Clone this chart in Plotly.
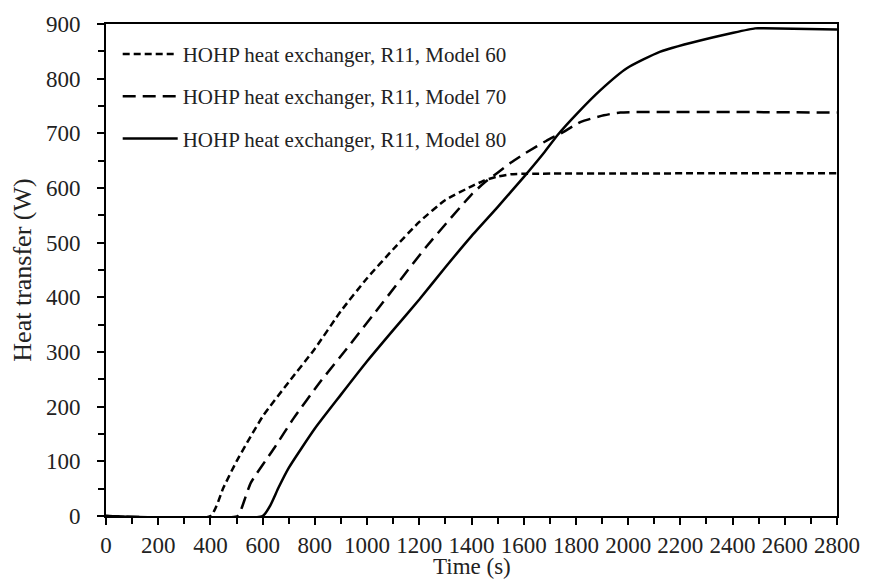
import plotly.graph_objects as go

# Model 60 (short dash)
t60 = [0, 400, 450, 500, 600, 700, 800, 900, 1000, 1100, 1200, 1300, 1400, 1450, 1500, 1550, 1600, 2800]
q60 = [0, 0, 52, 100, 182, 245, 306, 375, 435, 488, 538, 578, 603, 614, 621, 625, 626, 627]

# Model 70 (long dash)
t70 = [0, 505, 520, 555, 644, 719, 820, 922, 1061, 1226, 1400, 1450, 1500, 1550, 1600, 1700, 1743, 1819, 1907, 1970, 2800]
q70 = [0, 0, 15, 61, 124, 179, 245, 306, 391, 492, 588, 610, 628, 646, 662, 690, 700, 721, 733, 738, 738]

# Model 80 (solid)
t80 = [0, 600, 630, 661, 700, 800, 900, 1000, 1100, 1200, 1300, 1400, 1500, 1600, 1680, 1730, 1806, 1894, 1995, 2121, 2311, 2486, 2520, 2800]
q80 = [0, 0, 20, 52, 88, 160, 222, 283, 340, 396, 455, 512, 565, 620, 666, 697, 737, 779, 819, 849, 874, 892, 892, 890]

names = ["HOHP heat exchanger, R11, Model 60",
         "HOHP heat exchanger, R11, Model 70",
         "HOHP heat exchanger, R11, Model 80"]
dashes = ["7px,4px", "13px,7px", "solid"]

FONT = "Liberation Serif, Times New Roman, serif"
TXT = "#222"

fig = go.Figure()
for i, (t, q) in enumerate([(t60, q60), (t70, q70), (t80, q80)]):
    fig.add_trace(go.Scatter(
        x=t, y=q, mode="lines", name=names[i], legendgroup=f"g{i}",
        line=dict(color="black", width=2.5, dash=dashes[i], shape="spline", smoothing=0.5),
    ))

axis_common = dict(
    showline=True, linecolor="black", linewidth=2, mirror=True,
    ticks="outside", ticklen=7, tickwidth=2, tickcolor="black",
    showgrid=False, zeroline=False,
    tickfont=dict(family=FONT, size=23, color=TXT),
)

fig.update_xaxes(
    range=[0, 2800], dtick=200, tick0=0,
    minor=dict(dtick=100, ticks="outside", ticklen=6, tickwidth=2, tickcolor="black"),
    **axis_common,
)
fig.update_yaxes(
    range=[0, 900], dtick=100, tick0=0,
    minor=dict(dtick=50, ticks="outside", ticklen=6, tickwidth=2, tickcolor="black"),
    ticklabelstandoff=12,
    title=dict(text="Heat transfer (W)", font=dict(family=FONT, size=26, color=TXT), standoff=7),
    **axis_common,
)

fig.add_annotation(
    text="Time (s)", xref="paper", yref="paper", x=0.5, y=0,
    xanchor="center", yanchor="middle", yshift=-50, showarrow=False,
    font=dict(family=FONT, size=23, color=TXT),
)

fig.update_layout(
    width=872, height=581,
    margin=dict(l=106, r=26, t=23, b=65),
    plot_bgcolor="white", paper_bgcolor="white",
    font=dict(family=FONT, color=TXT),
    showlegend=True,
    legend=dict(
        x=0.016, y=0.98, xanchor="left", yanchor="top",
        font=dict(family=FONT, size=21, color=TXT),
        bgcolor="rgba(0,0,0,0)", tracegroupgap=12, itemwidth=55,
    ),
)

fig.write_html(
    "out.html",
    config={"displayModeBar": False},
    post_script="document.body.style.margin='0';document.body.style.overflow='hidden';",
)
